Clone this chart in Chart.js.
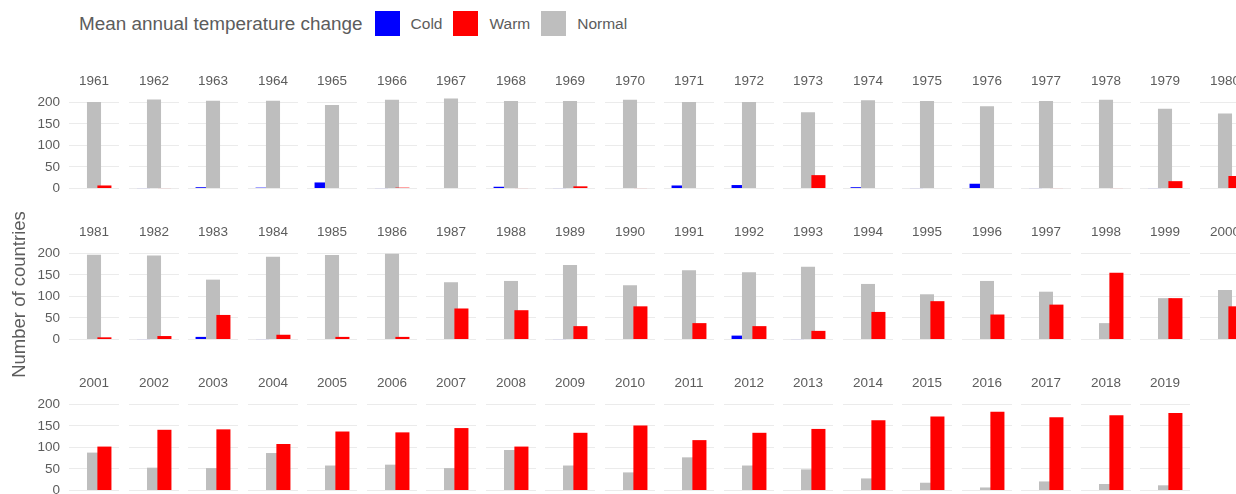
<!DOCTYPE html>
<html>
<head>
<meta charset="utf-8">
<script src="https://cdn.jsdelivr.net/npm/chart.js@4.4.1/dist/chart.umd.min.js"></script>
<style>
    body {
        margin: 0;
        width: 1236px;
        height: 494px;
        overflow: hidden;
        position: relative;
        background: #fff;
        font-family: 'Liberation Sans', Arial, sans-serif;
    }
    canvas { position: absolute; }
    #legend {
        position: absolute;
        left: 79px;
        top: 11px;
        height: 25px;
        display: flex;
        align-items: center;
        color: #5c5c5c;
        white-space: nowrap;
    }
    #legend .title { font-size: 18.9px; margin-right: 12px; }
    #legend .key { width: 25px; height: 25px; margin-right: 11px; }
    #legend .label { font-size: 15.5px; margin-right: 11px; }
</style>
</head>
<body>
<div id="legend"></div>
<script>
const years = [
    1961, 1962, 1963, 1964, 1965, 1966, 1967, 1968, 1969, 1970,
    1971, 1972, 1973, 1974, 1975, 1976, 1977, 1978, 1979, 1980,
    1981, 1982, 1983, 1984, 1985, 1986, 1987, 1988, 1989, 1990,
    1991, 1992, 1993, 1994, 1995, 1996, 1997, 1998, 1999, 2000,
    2001, 2002, 2003, 2004, 2005, 2006, 2007, 2008, 2009, 2010,
    2011, 2012, 2013, 2014, 2015, 2016, 2017, 2018, 2019
];
const categories = ['Cold', 'Normal', 'Warm'];
const legendOrder = ['Cold', 'Warm', 'Normal'];

const coldCounts = [
    0, 1, 3, 2, 14, 1, 0, 4, 1, 0, 7, 8, 0, 3, 1, 11, 1, 0, 1, 0,
    0, 1, 6, 1, 0, 0, 0, 0, 1, 0, 0, 9, 1, 0, 0, 0, 0, 0, 0, 0,
    0, 0, 0, 0, 0, 0, 0, 0, 0, 0, 0, 0, 0, 0, 0, 0, 0, 0, 0
];
const normalCounts = [
    201, 207, 204, 204, 194, 206, 209, 203, 203, 206, 201, 201, 177, 205, 203, 191, 203, 206, 185, 174,
    197, 195, 139, 192, 196, 199, 133, 136, 173, 126, 161, 156, 169, 129, 105, 136, 111, 38, 96, 115,
    88, 53, 52, 87, 58, 60, 52, 94, 58, 42, 77, 58, 49, 28, 18, 7, 21, 15, 12
];
const warmCounts = [
    7, 1, 0, 0, 0, 2, 0, 1, 5, 1, 0, 0, 31, 0, 0, 0, 1, 1, 17, 29,
    5, 8, 57, 11, 6, 6, 72, 68, 31, 77, 38, 31, 20, 64, 89, 58, 81, 155, 96, 77,
    102, 141, 142, 108, 137, 135, 145, 102, 134, 151, 117, 134, 143, 163, 172, 183, 170, 175, 180
];
const yTicks = [0, 50, 100, 150, 200];
const yMin = -10.5, yMax = 219.5;

const countsByCategory = { Cold: coldCounts, Normal: normalCounts, Warm: warmCounts };
const colors = { Cold: '#0000ff', Warm: '#ff0000', Normal: '#bebebe' };
const textColor = '#5c5c5c';
const gridColor = '#ebebeb';
const fontFamily = "'Liberation Sans', Arial, sans-serif";

// facet layout (pixels)
const perRow = 20;
const panelLeft0 = 69, panelStep = 59.5, panelWidth = 50;
const panelTop0 = 94, rowStep = 150.8, panelHeight = 99;
const stripSpace = 24;

// legend
const legend = document.getElementById('legend');
legend.innerHTML = '<span class="title">Mean annual temperature change</span>' +
    legendOrder.map(c => `<span class="key" style="background:${colors[c]}"></span><span class="label">${c}</span>`).join('');

const stripPlugin = {
    id: 'strip',
    afterDraw(chart, args, opts) {
        const { ctx, chartArea } = chart;
        ctx.save();
        ctx.font = `13.5px ${fontFamily}`;
        ctx.fillStyle = textColor;
        ctx.textAlign = 'center';
        ctx.textBaseline = 'middle';
        ctx.fillText(opts.label, (chartArea.left + chartArea.right) / 2, chartArea.top - 13);
        ctx.restore();
    }
};

years.forEach((year, idx) => {
    const row = Math.floor(idx / perRow);
    const col = idx % perRow;
    const hasTitle = col === 0 && row === 1;
    const panelLeft = Math.round(panelLeft0 + col * panelStep);
    const panelTop = Math.round(panelTop0 + row * rowStep);
    // extra room in the first column for tick-label padding and the axis title
    const padTop = stripSpace + (hasTitle ? 40 : 0);
    const padBottom = hasTitle ? 50 : (col === 0 ? 30 : 0);
    const canvasLeft = col === 0 ? 0 : panelLeft;
    const width = panelLeft + panelWidth - canvasLeft;
    const height = padTop + panelHeight + padBottom;

    const canvas = document.createElement('canvas');
    canvas.width = width;
    canvas.height = height;
    canvas.style.left = canvasLeft + 'px';
    canvas.style.top = (panelTop - padTop) + 'px';
    canvas.style.width = width + 'px';
    canvas.style.height = height + 'px';
    document.body.appendChild(canvas);

    new Chart(canvas, {
        type: 'bar',
        data: {
            datasets: [{
                data: categories.map((c, i) => ({ x: i + 1, y: countsByCategory[c][idx] })),
                backgroundColor: categories.map(c => colors[c]),
                borderWidth: 0,
                inflateAmount: 0,
                barThickness: 0.9 * panelWidth / 3.2
            }]
        },
        options: {
            responsive: false,
            animation: false,
            devicePixelRatio: 1,
            layout: { padding: { top: padTop, left: 0, right: 0, bottom: padBottom } },
            scales: {
                x: {
                    type: 'linear',
                    min: 0.4,
                    max: 3.6,
                    display: false,
                    afterBuildTicks: s => { s.ticks = [1, 2, 3].map(v => ({ value: v })); }
                },
                y: {
                    type: 'linear',
                    bounds: 'data',
                    beginAtZero: false,
                    afterDataLimits: s => { s.min = yMin; s.max = yMax; },
                    border: { display: false },
                    grid: { color: gridColor, lineWidth: 1, drawTicks: false },
                    afterBuildTicks: s => { s.ticks = yTicks.map(v => ({ value: v })); },
                    afterFit: s => { s.width = col === 0 ? panelLeft : 0; },
                    ticks: {
                        display: col === 0,
                        padding: 9,
                        color: textColor,
                        font: { family: fontFamily, size: 13.5 }
                    },
                    title: {
                        display: hasTitle,
                        text: 'Number of countries',
                        color: textColor,
                        font: { family: fontFamily, size: 18.5 },
                        padding: { top: 9, bottom: 0 }
                    }
                }
            },
            plugins: {
                legend: { display: false },
                tooltip: { enabled: false },
                strip: { label: String(year) }
            }
        },
        plugins: [stripPlugin]
    });
});
</script>
</body>
</html>
